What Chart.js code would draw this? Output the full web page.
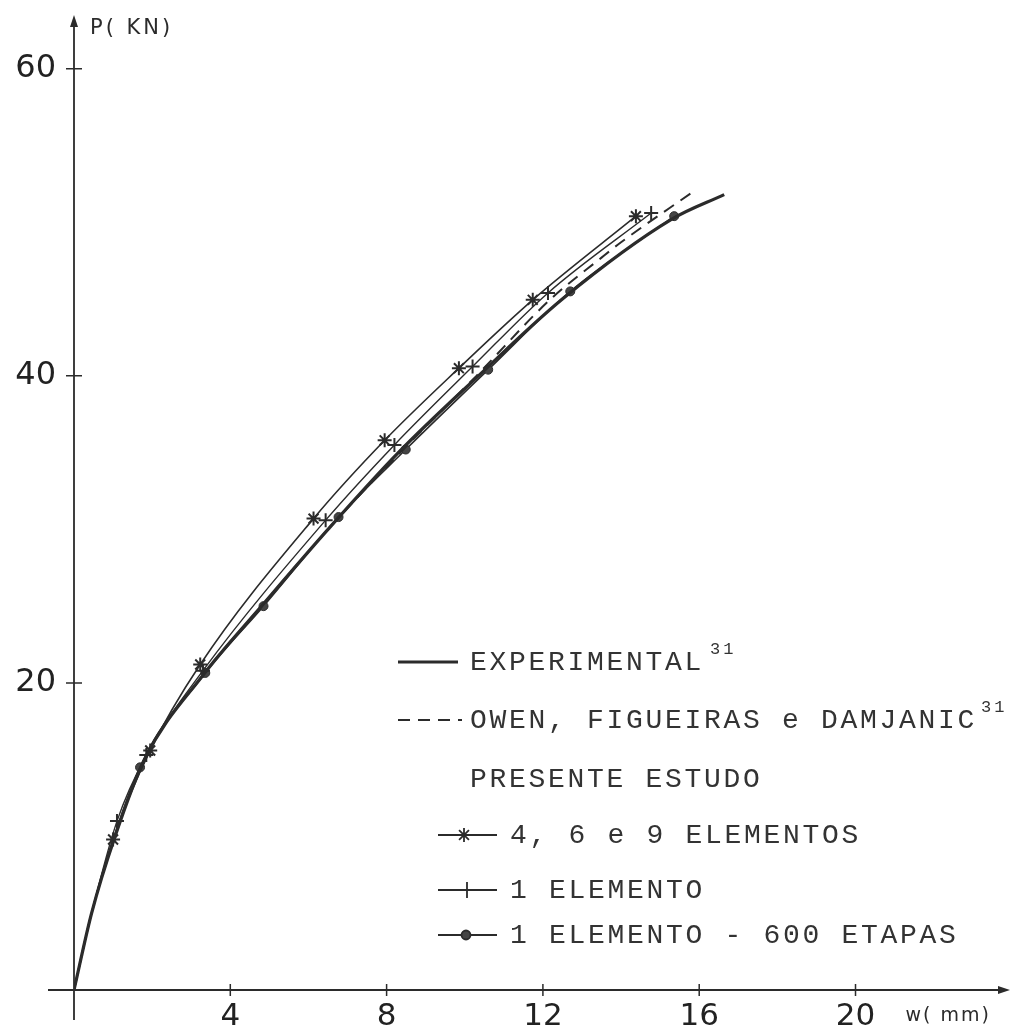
<!DOCTYPE html>
<html>
<head>
<meta charset="utf-8">
<script src="https://cdn.jsdelivr.net/npm/chart.js@4.4.1/dist/chart.umd.min.js"></script>
<style>
  body { margin: 0; background: #fff; }
  canvas { display: block; }
</style>
</head>
<body>
<canvas id="curves" width="1013" height="1030"></canvas>
<script>
// Load P (kN) against deflection w (mm)
var expW = [0, 0.45, 1.05, 1.8, 3.3, 4.8, 6.5, 8.3, 10.35, 12.5, 15.3, 16.64];
var expP = [0, 5, 10, 15, 20.5, 25, 30, 35, 40, 45, 50.2, 51.8];

var owenW = [0, 0.45, 1.05, 1.8, 3.3, 4.8, 6.5, 8.35, 10.3, 12.2, 13.5, 14.0, 15.85];
var owenP = [0, 5, 10, 15, 20.5, 25, 30, 35, 40, 45, 47.7, 48.7, 52.0];

// the first two points of each marked series carry no marker
var elem469W = [0, 0.45, 1.0, 1.95, 3.23, 6.13, 7.95, 9.85, 11.74, 14.38];
var elem469P = [0, 5, 9.8, 15.6, 21.2, 30.7, 35.8, 40.5, 44.95, 50.4];

var elem1W = [0, 0.45, 1.1, 1.85, 3.3, 6.44, 8.2, 10.2, 12.13, 14.77];
var elem1P = [0, 5, 11.0, 15.3, 20.8, 30.6, 35.5, 40.6, 45.4, 50.6];

var etapasW = [0, 0.45, 1.69, 3.36, 4.85, 6.77, 8.49, 10.6, 12.7, 15.36];
var etapasP = [0, 5, 14.5, 20.65, 25.0, 30.8, 35.2, 40.4, 45.5, 50.4];

var xTicks = [4, 8, 12, 16, 20];
var yTicks = [20, 40, 60];

var ink = '#2b2b2b';

function pts(w, p) {
    return w.map(function (v, i) { return { x: v, y: p[i] }; });
}

function markerRadius(r) {
    return function (c) { return c.dataIndex < 2 ? 0 : r; };
}

var axesAndKey = {
    id: 'axesAndKey',
    afterDraw: function (chart) {
        var ctx = chart.ctx;
        var xs = chart.scales.x, ys = chart.scales.y;
        var x0 = xs.getPixelForValue(0), y0 = ys.getPixelForValue(0);
        var right = xs.right + 6, top = ys.top;

        ctx.save();
        ctx.strokeStyle = ink;
        ctx.fillStyle = ink;
        ctx.lineWidth = 1.8;

        // axes with arrow heads
        ctx.beginPath();
        ctx.moveTo(x0 - 26, y0);
        ctx.lineTo(right - 6, y0);
        ctx.moveTo(x0, y0 + 30);
        ctx.lineTo(x0, top + 6);
        ctx.stroke();
        ctx.beginPath();
        ctx.moveTo(right, y0);
        ctx.lineTo(right - 12, y0 - 4);
        ctx.lineTo(right - 12, y0 + 4);
        ctx.closePath();
        ctx.moveTo(x0, top);
        ctx.lineTo(x0 - 4, top + 12);
        ctx.lineTo(x0 + 4, top + 12);
        ctx.closePath();
        ctx.fill();

        // tick marks cross the axes
        ctx.lineWidth = 1.5;
        ctx.beginPath();
        xTicks.forEach(function (v) {
            var px = xs.getPixelForValue(v);
            ctx.moveTo(px, y0 - 6);
            ctx.lineTo(px, y0 + 6);
        });
        yTicks.forEach(function (v) {
            var py = ys.getPixelForValue(v);
            ctx.moveTo(x0 - 8, py);
            ctx.lineTo(x0 + 8, py);
        });
        ctx.stroke();

        // axis titles
        ctx.textBaseline = 'middle';
        ctx.textAlign = 'left';
        ctx.font = '21px "DejaVu Sans"';
        ctx.letterSpacing = '3px';
        ctx.fillText('P( KN)', x0 + 16, top + 14);
        ctx.font = '19px "DejaVu Sans"';
        ctx.letterSpacing = '2px';
        ctx.fillText('w( mm)', xs.getPixelForValue(20) + 50, y0 + 26);

        // key
        ctx.fillStyle = '#333';
        ctx.font = '28px "Liberation Mono"';
        ctx.letterSpacing = '2.7px';

        function sup(text, x, y) {
            ctx.save();
            ctx.font = '17px "Liberation Mono"';
            ctx.letterSpacing = '3px';
            ctx.fillText(text, x, y);
            ctx.restore();
        }

        ctx.lineWidth = 3.2;
        ctx.beginPath();
        ctx.moveTo(398, 662);
        ctx.lineTo(458, 662);
        ctx.stroke();
        ctx.fillText('EXPERIMENTAL', 470, 663);
        sup('31', 470 + ctx.measureText('EXPERIMENTAL').width + 6, 649);

        ctx.lineWidth = 2;
        ctx.setLineDash([12, 8]);
        ctx.beginPath();
        ctx.moveTo(398, 720);
        ctx.lineTo(462, 720);
        ctx.stroke();
        ctx.setLineDash([]);
        ctx.fillText('OWEN, FIGUEIRAS e DAMJANIC', 470, 721);
        sup('31', 470 + ctx.measureText('OWEN, FIGUEIRAS e DAMJANIC').width + 4, 707);

        ctx.fillText('PRESENTE ESTUDO', 470, 780);

        var rows = [
            { y: 835, mx: 464, style: 'star', r: 7, text: '4, 6 e 9 ELEMENTOS' },
            { y: 890, mx: 467, style: 'cross', r: 8, text: '1 ELEMENTO' },
            { y: 935, mx: 466, style: 'circle', r: 4.5, text: '1 ELEMENTO - 600 ETAPAS' }
        ];
        rows.forEach(function (row) {
            ctx.lineWidth = 1.8;
            ctx.beginPath();
            ctx.moveTo(438, row.y);
            ctx.lineTo(497, row.y);
            ctx.stroke();
            ctx.fillStyle = '#444';
            Chart.helpers.drawPoint(ctx, { pointStyle: row.style, radius: row.r, rotation: 0, borderWidth: 2 }, row.mx, row.y);
            ctx.fillStyle = '#333';
            ctx.fillText(row.text, 510, row.y + 1);
        });

        ctx.restore();
    }
};

var ctx = document.getElementById('curves').getContext('2d');
var chart = new Chart(ctx, {
    type: 'line',
    data: {
        datasets: [
            {
                label: 'EXPERIMENTAL',
                data: pts(expW, expP),
                borderColor: ink,
                borderWidth: 3.2,
                pointRadius: 0,
                cubicInterpolationMode: 'monotone'
            },
            {
                label: 'OWEN, FIGUEIRAS e DAMJANIC',
                data: pts(owenW, owenP),
                borderColor: ink,
                borderWidth: 2,
                borderDash: [12, 8],
                pointRadius: 0,
                cubicInterpolationMode: 'monotone'
            },
            {
                label: '4, 6 e 9 ELEMENTOS',
                data: pts(elem469W, elem469P),
                borderColor: ink,
                borderWidth: 1.6,
                pointStyle: 'star',
                pointRadius: markerRadius(7),
                pointBorderWidth: 2,
                pointBorderColor: ink,
                cubicInterpolationMode: 'monotone'
            },
            {
                label: '1 ELEMENTO',
                data: pts(elem1W, elem1P),
                borderColor: ink,
                borderWidth: 1.4,
                pointStyle: 'cross',
                pointRadius: markerRadius(7),
                pointBorderWidth: 2,
                pointBorderColor: ink,
                cubicInterpolationMode: 'monotone'
            },
            {
                label: '1 ELEMENTO - 600 ETAPAS',
                data: pts(etapasW, etapasP),
                borderColor: ink,
                borderWidth: 1.6,
                pointStyle: 'circle',
                pointRadius: markerRadius(4.5),
                pointBackgroundColor: '#444',
                pointBorderColor: ink,
                pointBorderWidth: 1,
                cubicInterpolationMode: 'monotone'
            }
        ]
    },
    options: {
        responsive: false,
        animation: false,
        layout: { padding: { left: 0, top: 15, right: 3, bottom: 0 } },
        plugins: {
            legend: { display: false },
            tooltip: { enabled: false }
        },
        scales: {
            x: {
                type: 'linear',
                min: 0,
                max: 23.8,
                grid: { display: false, drawTicks: false },
                border: { display: false },
                afterFit: function (scale) {
                    scale.height = 40;
                    scale.paddingLeft = 0;
                    scale.paddingRight = 0;
                },
                ticks: {
                    stepSize: 4,
                    autoSkip: false,
                    maxRotation: 0,
                    padding: 8,
                    color: '#222',
                    font: { family: 'DejaVu Sans', size: 31 },
                    callback: function (v) { return xTicks.indexOf(v) >= 0 ? v : ''; }
                }
            },
            y: {
                type: 'linear',
                min: 0,
                max: 63.5,
                grid: { display: false, drawTicks: false },
                border: { display: false },
                afterFit: function (scale) {
                    scale.width = 74;
                    scale.paddingTop = 0;
                    scale.paddingBottom = 0;
                },
                ticks: {
                    stepSize: 20,
                    includeBounds: false,
                    padding: 18,
                    color: '#222',
                    font: { family: 'DejaVu Sans', size: 32 },
                    callback: function (v) { return yTicks.indexOf(v) >= 0 ? v : ''; }
                }
            }
        }
    },
    plugins: [axesAndKey]
});
</script>
</body>
</html>
